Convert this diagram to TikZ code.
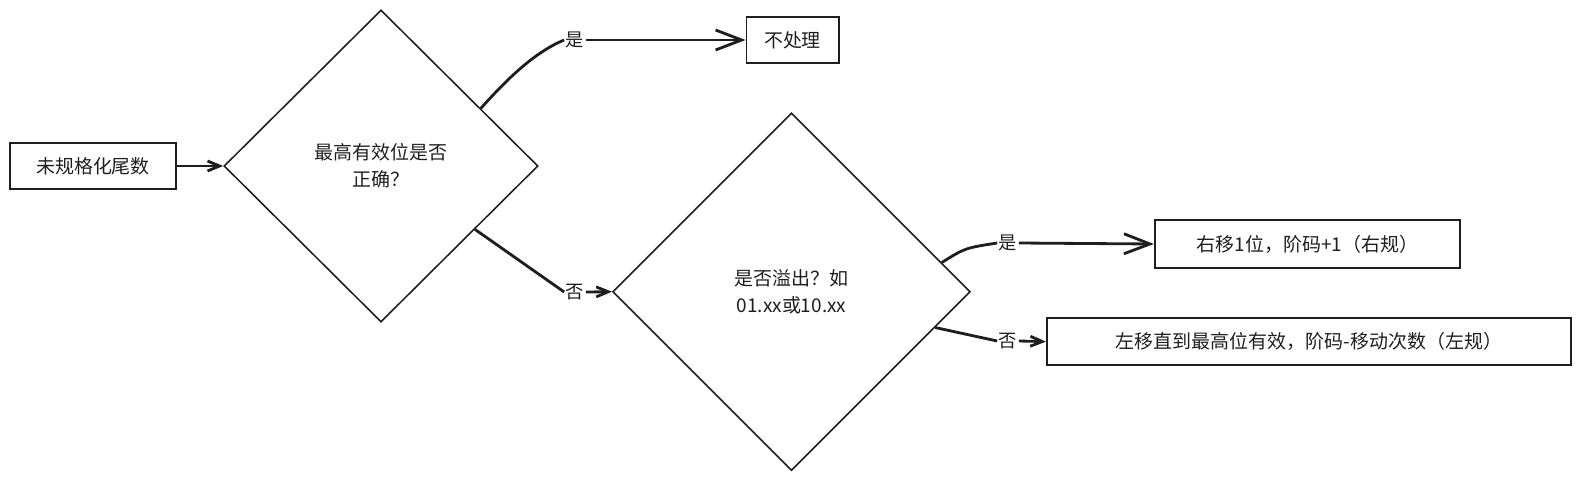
\documentclass[tikz,border=0pt]{standalone}
\usepackage{fontspec}
\setmainfont{Noto Sans CJK SC}
\usetikzlibrary{arrows.meta,shapes.geometric}
\definecolor{mo}{HTML}{1E1E1E}
\begin{document}
\begin{tikzpicture}[x=0.025cm,y=-0.025cm,kuang/.style={draw=mo,line width=1.4pt,inner sep=0pt,text=mo,font=\fontsize{13.5}{17}\selectfont},pan/.style={draw=mo,diamond,aspect=1,line width=1.1pt,inner sep=0pt,align=center,text=mo,font=\fontsize{13.5}{19}\selectfont},biao/.style={inner sep=1pt,text=mo,font=\fontsize{13}{15}\selectfont},xian/.style={draw=mo,line width=2pt},jian/.style={xian,-{Straight Barb[length=6.5mm,width=5mm]}},duan/.style={xian,-{Straight Barb[length=3mm,width=2.5mm]}}]
\useasboundingbox (0,0) rectangle (1580,481);
\node[kuang,minimum width=4.15cm,minimum height=1.16cm] (weigui) at (93,166) {未规格化尾数};
\node[pan,minimum width=7.85cm,minimum height=7.8cm] (zuigao) at (381,166) {最高有效位是否\\正确？};
\node[kuang,minimum width=2.3cm,minimum height=1.16cm] (buchuli) at (792.5,40) {不处理};
\node[pan,minimum width=8.94cm,minimum height=8.94cm] (yichu) at (791.5,291.7) {是否溢出？如\\01.xx或10.xx};
\node[kuang,minimum width=7.63cm,minimum height=1.2cm] (youyi) at (1307.5,244) {右移1位，阶码+1（右规）};
\node[kuang,minimum width=13.1cm,minimum height=1.16cm] (zuoyi) at (1309,341.6) {左移直到最高位有效，阶码-移动次数（左规）};
% labels
\node[biao] (shi1) at (575,40) {是};
\node[biao] (fou1) at (575,292) {否};
\node[biao] (shi2) at (1008,243) {是};
\node[biao] (fou2) at (1008,341) {否};
% connectors
\draw[xian,-{Straight Barb[length=3mm,width=2.5mm]}] (weigui) -- (zuigao);
\draw[xian] (zuigao.30) .. controls (508,78) and (535,52) .. (shi1.west);
\draw[jian] (shi1.east) -- (buchuli.west);
\draw[xian] (zuigao.-34) -- (fou1.west);
\draw[duan] (fou1.east) -- (yichu.west);
\draw[xian] (yichu.11) .. controls (965,248) .. (shi2.west);
\draw[jian] (shi2.east) -- (youyi.west);
\draw[xian] (yichu.-14) -- (fou2.west);
\draw[duan] (fou2.east) -- (zuoyi.west);
\end{tikzpicture}
\end{document}
